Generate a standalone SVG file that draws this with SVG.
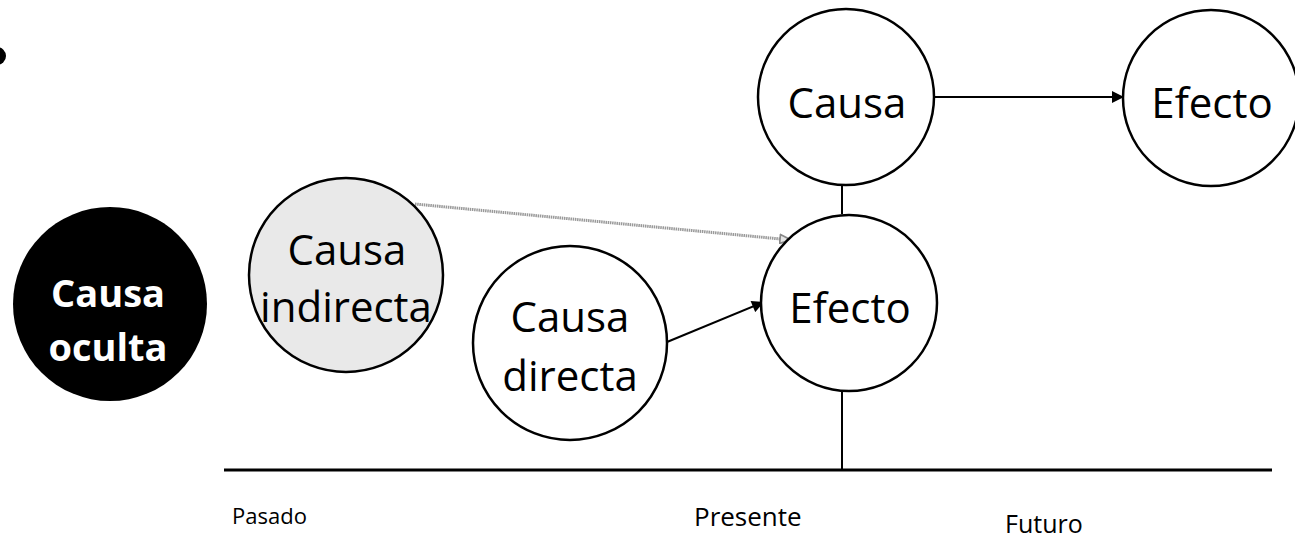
<svg xmlns="http://www.w3.org/2000/svg" width="1295" height="538" viewBox="0 0 1295 538">
  <style>
    .node { stroke: #000; stroke-width: 2.5; fill: #fff; }
    .lbl { font-family: "Open Sans", "Liberation Sans", sans-serif; font-size: 42px; fill: #000; text-anchor: middle; }
    .lblw { font-family: "Open Sans", "Liberation Sans", sans-serif; font-size: 38px; font-weight: bold; fill: #fff; text-anchor: middle; }
    .axis { font-family: "Open Sans", "Liberation Sans", sans-serif; fill: #000; }
    .conn { stroke: #000; stroke-width: 2; fill: none; }
  </style>
  <defs>
    <marker id="ah" viewBox="0 0 10 10" refX="10" refY="5" markerWidth="13" markerHeight="12" markerUnits="userSpaceOnUse" orient="auto">
      <path d="M0,0 L10,5 L0,10 z" fill="#000"/>
    </marker>
    <marker id="ahg" viewBox="0 0 10 10" refX="10" refY="5" markerWidth="13" markerHeight="11" markerUnits="userSpaceOnUse" orient="auto">
      <path d="M0,1 L10,5 L0,9 z" fill="#e6e6e6" stroke="#888" stroke-width="1.5"/>
    </marker>
  </defs>
  <rect width="1295" height="538" fill="#fff"/>

  <!-- bullet -->
  <circle cx="-3" cy="56" r="9" fill="#000"/>

  <g id="connectors">
    <line x1="842" y1="185" x2="842" y2="214" class="conn"/>
    <line x1="842" y1="391" x2="842" y2="470" class="conn"/>
    <line x1="224" y1="470" x2="1272" y2="470" stroke="#000" stroke-width="3"/>
    <line x1="935" y1="97" x2="1124" y2="97" class="conn" marker-end="url(#ah)"/>
    <line x1="667" y1="342" x2="764" y2="302" class="conn" marker-end="url(#ah)"/>
    <line x1="415" y1="204" x2="791" y2="240" stroke="#999" stroke-width="3" stroke-dasharray="1.5 0.7" marker-end="url(#ahg)"/>
  </g>

  <g id="causa-oculta">
    <circle cx="110" cy="304" r="97" fill="#000"/>
    <text class="lblw" x="108" y="307">Causa</text>
    <text class="lblw" x="108" y="361">oculta</text>
  </g>

  <g id="causa-indirecta">
    <circle cx="346" cy="275" r="97" class="node" style="fill:#e9e9e9"/>
    <text class="lbl" x="347" y="265">Causa</text>
    <text class="lbl" x="346" y="322">indirecta</text>
  </g>

  <g id="causa-directa">
    <circle cx="570" cy="343" r="97" class="node"/>
    <text class="lbl" x="570" y="332">Causa</text>
    <text class="lbl" x="570" y="391">directa</text>
  </g>

  <g id="efecto-presente">
    <circle cx="849" cy="303" r="88" class="node"/>
    <text class="lbl" x="850" y="323">Efecto</text>
  </g>

  <g id="causa-presente">
    <circle cx="846" cy="97" r="88" class="node"/>
    <text class="lbl" x="847" y="118">Causa</text>
  </g>

  <g id="efecto-futuro">
    <circle cx="1211" cy="98" r="88" class="node"/>
    <text class="lbl" x="1212" y="118">Efecto</text>
  </g>

  <g id="axis-labels">
    <text class="axis" x="232" y="524" font-size="22">Pasado</text>
    <text class="axis" x="694" y="526" font-size="26">Presente</text>
    <text class="axis" x="1005" y="533" font-size="25">Futuro</text>
  </g>
</svg>
